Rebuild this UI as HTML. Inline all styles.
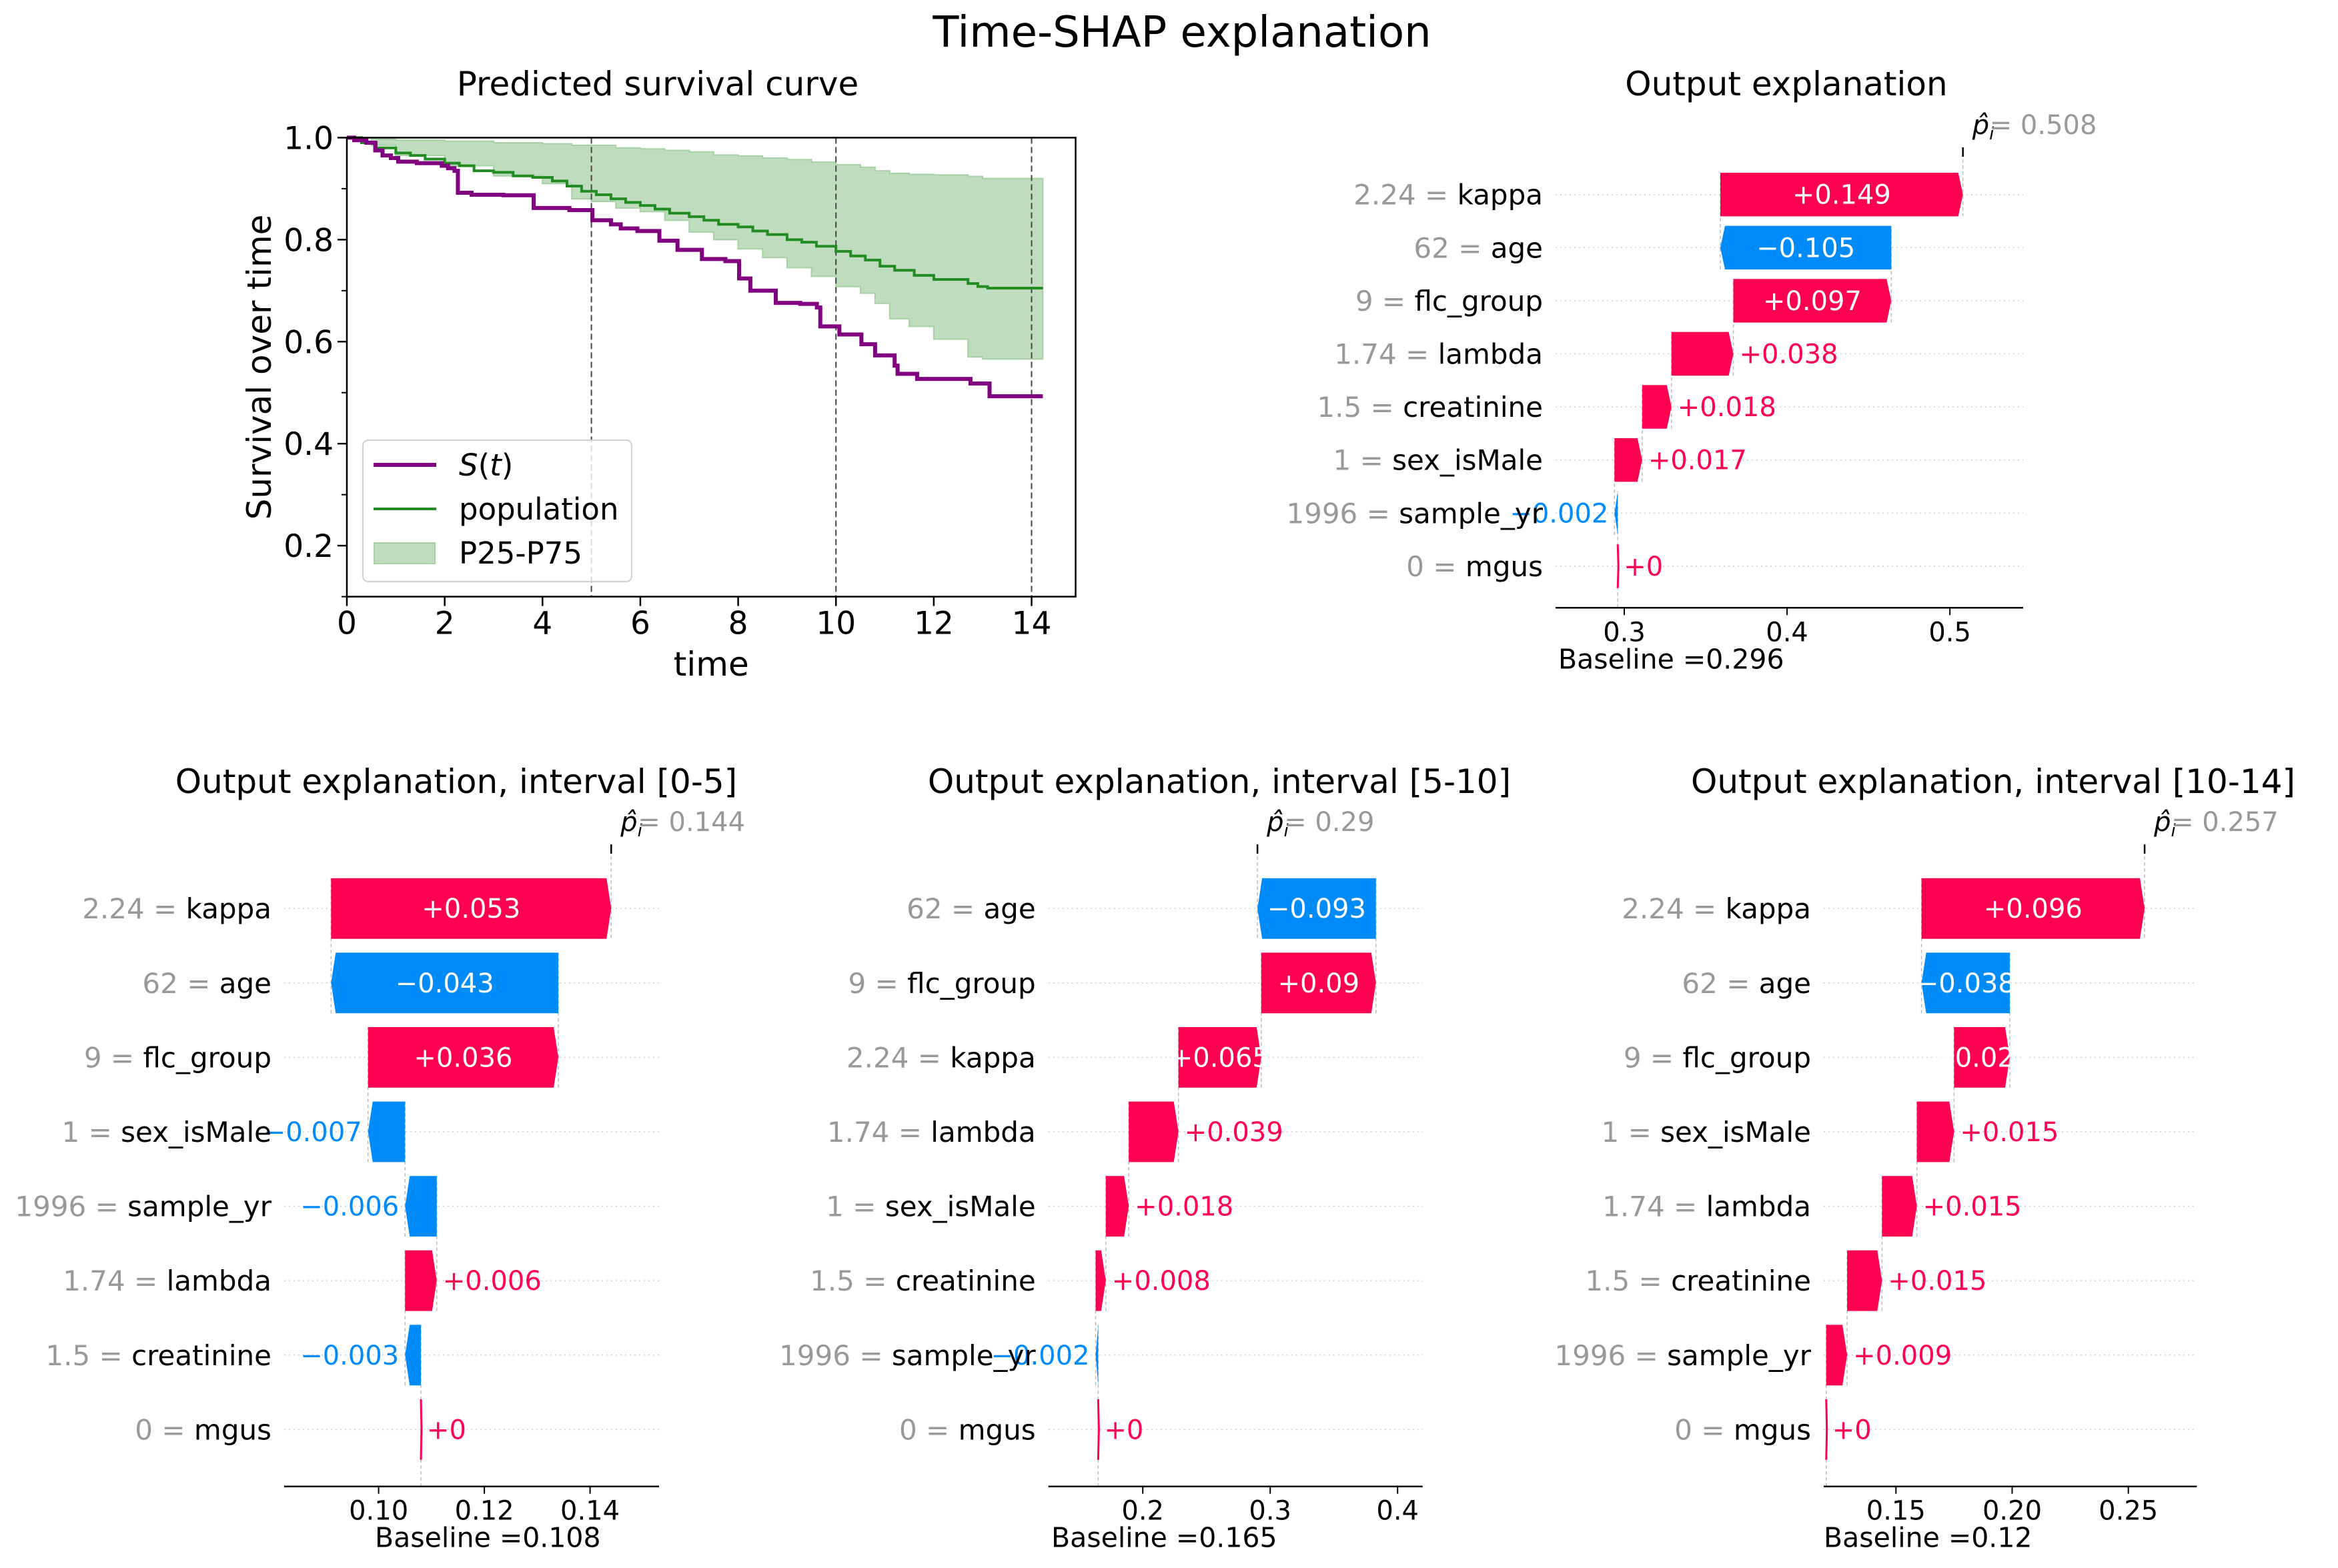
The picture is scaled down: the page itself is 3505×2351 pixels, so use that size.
<!DOCTYPE html>
<html><head><meta charset="utf-8"><title>Time-SHAP explanation</title>
<style>
html,body{margin:0;padding:0;background:#fff;}
svg{display:block;font-family:"DejaVu Sans","Liberation Sans",sans-serif;}
</style></head>
<body>
<svg id="fig" xmlns="http://www.w3.org/2000/svg" width="3505" height="2351" viewBox="0 0 3505 2351">
<rect x="0" y="0" width="3505" height="2351" fill="#fff"/>
<text x="1772" y="70" font-size="64" text-anchor="middle">Time-SHAP explanation</text>
<g id="surv"></g>
<g id="tr"></g>
<g id="bl"></g>
<g id="bm"></g>
<g id="br"></g>
</svg>
<script>
// ---------- Survival data ----------
const sTimes = [0,0.15,0.4,0.58,0.73,0.9,1.05,1.43,1.94,2.07,2.2,2.27,2.55,3.2,3.82,4.55,5.02,5.4,5.6,5.94,6.39,6.76,7.26,7.74,8.02,8.25,8.77,9.27,9.61,9.68,10.07,10.52,10.8,11.2,11.26,11.66,12.75,13.14];
const sSurv = [1.0,0.995,0.99,0.975,0.965,0.96,0.953,0.95,0.945,0.94,0.935,0.892,0.888,0.887,0.862,0.858,0.838,0.83,0.822,0.817,0.798,0.78,0.762,0.758,0.724,0.70,0.676,0.674,0.667,0.63,0.614,0.595,0.573,0.553,0.537,0.527,0.518,0.493];
const popTimes = [0,0.3,0.6,1,1.3,1.6,2,2.3,2.6,3,3.4,3.8,4.2,4.5,4.8,5.1,5.4,5.7,6,6.3,6.6,7,7.3,7.6,8,8.3,8.6,9,9.3,9.6,10,10.3,10.6,10.9,11.2,11.6,12,12.7,12.9,13.1];
const popVals = [1,0.99,0.98,0.97,0.965,0.958,0.95,0.945,0.935,0.932,0.925,0.922,0.915,0.905,0.895,0.888,0.88,0.873,0.867,0.86,0.852,0.845,0.838,0.83,0.825,0.817,0.81,0.8,0.795,0.787,0.777,0.768,0.76,0.748,0.74,0.73,0.722,0.714,0.708,0.705];
const bandTimes = [0,0.5,1,2,3,4,4.6,5,5.5,6,6.5,7,7.5,8,8.5,9,9.5,10,10.5,10.8,11.1,11.5,12,12.7,13];
const bandHi = [1,0.997,0.995,0.993,0.99,0.988,0.985,0.985,0.98,0.978,0.975,0.972,0.966,0.964,0.96,0.957,0.952,0.947,0.942,0.935,0.93,0.928,0.927,0.924,0.92];
const bandLo = [1,0.985,0.965,0.945,0.925,0.91,0.88,0.875,0.862,0.855,0.838,0.815,0.8,0.782,0.765,0.745,0.728,0.708,0.695,0.675,0.645,0.63,0.605,0.57,0.566];
const tEnd = 14.23;
const intervalCuts = [5,10,14];
const survXTicks = [0,2,4,6,8,10,12,14];
const survYTicks = [0.2,0.4,0.6,0.8,1.0];
const survYMinor = [0.1,0.3,0.5,0.7,0.9];

// ---------- Waterfall data ----------
const trFeatures = ["kappa","age","flc_group","lambda","creatinine","sex_isMale","sample_yr","mgus"];
const trFeatVals = ["2.24","62","9","1.74","1.5","1","1996","0"];
const trShap = [0.149,-0.105,0.097,0.038,0.018,0.017,-0.002,0];
const trLabels = ["+0.149","\u22120.105","+0.097","+0.038","+0.018","+0.017","\u22120.002","+0"];
const trInside = [true,true,true,false,false,false,false,false];
const trBaseline = 0.296;
const trPredText = "= 0.508";
const trTicks = [0.3,0.4,0.5];
const trTickLabels = ["0.3","0.4","0.5"];

const blFeatures = ["kappa","age","flc_group","sex_isMale","sample_yr","lambda","creatinine","mgus"];
const blFeatVals = ["2.24","62","9","1","1996","1.74","1.5","0"];
const blShap = [0.053,-0.043,0.036,-0.007,-0.006,0.006,-0.003,0];
const blLabels = ["+0.053","\u22120.043","+0.036","\u22120.007","\u22120.006","+0.006","\u22120.003","+0"];
const blInside = [true,true,true,false,false,false,false,false];
const blBaseline = 0.108;
const blPredText = "= 0.144";
const blTicks = [0.10,0.12,0.14];
const blTickLabels = ["0.10","0.12","0.14"];

const bmFeatures = ["age","flc_group","kappa","lambda","sex_isMale","creatinine","sample_yr","mgus"];
const bmFeatVals = ["62","9","2.24","1.74","1","1.5","1996","0"];
const bmShap = [-0.093,0.09,0.065,0.039,0.018,0.008,-0.002,0];
const bmLabels = ["\u22120.093","+0.09","+0.065","+0.039","+0.018","+0.008","\u22120.002","+0"];
const bmInside = [true,true,true,false,false,false,false,false];
const bmBaseline = 0.165;
const bmPredText = "= 0.29";
const bmTicks = [0.2,0.3,0.4];
const bmTickLabels = ["0.2","0.3","0.4"];

const brFeatures = ["kappa","age","flc_group","sex_isMale","lambda","creatinine","sample_yr","mgus"];
const brFeatVals = ["2.24","62","9","1","1.74","1.5","1996","0"];
const brShap = [0.096,-0.038,0.024,0.016,0.015,0.015,0.009,0];
const brLabels = ["+0.096","\u22120.038","+0.024","+0.015","+0.015","+0.015","+0.009","+0"];
const brInside = [true,true,true,false,false,false,false,false];
const brBaseline = 0.12;
const brPredText = "= 0.257";
const brTicks = [0.15,0.20,0.25];
const brTickLabels = ["0.15","0.20","0.25"];

const NS = "http://www.w3.org/2000/svg";
function mk(parent, tag, attrs, text){
  const e = document.createElementNS(NS, tag);
  for (const k in attrs) e.setAttribute(k, attrs[k]);
  if (text !== undefined) e.textContent = text;
  parent.appendChild(e);
  return e;
}

// ---------- Survival panel ----------
(function(){
  const g = document.getElementById('surv');
  const L=520, R=1612.5, T=206.4, B=894.6, xmax=14.9, ymin=0.1, ymax=1.0;
  const X = t => L + t/xmax*(R-L);
  const Y = s => B - (s-ymin)/(ymax-ymin)*(B-T);
  function stepPath(ts, vs){
    let d = 'M'+X(ts[0])+','+Y(vs[0]);
    for (let i=1;i<ts.length;i++){ d += ' H'+X(ts[i])+' V'+Y(vs[i]); }
    d += ' H'+X(tEnd);
    return d;
  }
  let d = 'M'+X(bandTimes[0])+','+Y(bandHi[0]);
  for (let i=1;i<bandTimes.length;i++) d += ' H'+X(bandTimes[i])+' V'+Y(bandHi[i]);
  d += ' H'+X(tEnd)+' V'+Y(bandLo[bandLo.length-1]);
  for (let i=bandTimes.length-1;i>=1;i--) d += ' H'+X(bandTimes[i])+' V'+Y(bandLo[i-1]);
  d += ' H'+X(bandTimes[0])+' Z';
  let e = mk(g,'path',{d:d, fill:'#bfdcbf', stroke:'#a6d0a6', 'stroke-width':2});
  
  
  intervalCuts.forEach(c=>{
    const l = mk(g,'line',{x1:X(c),x2:X(c),y1:T,y2:B,stroke:'#444','stroke-width':2,'stroke-dasharray':'9,5'});
    
    
  });
  e = mk(g,'path',{d:stepPath(popTimes,popVals), fill:'none', stroke:'#228b22','stroke-width':4});
  
  
  e = mk(g,'path',{d:stepPath(sTimes,sSurv), fill:'none', stroke:'#800080','stroke-width':6});
  
  
  e = mk(g,'rect',{x:L,y:T,width:R-L,height:B-T,fill:'none',stroke:'#000','stroke-width':2.5});
  
  
  survXTicks.forEach((t,i)=>{
    mk(g,'line',{x1:X(t),x2:X(t),y1:B,y2:B+14,stroke:'#000','stroke-width':2.5});
    const tx = mk(g,'text',{x:X(t),y:B+56,'font-size':47,'text-anchor':'middle'}, String(t));
    
    
  });
  survYTicks.forEach(s=>{
    mk(g,'line',{x1:L-14,x2:L,y1:Y(s),y2:Y(s),stroke:'#000','stroke-width':2.5});
    const tx = mk(g,'text',{x:L-20,y:Y(s)+17,'font-size':47,'text-anchor':'end'}, s.toFixed(1));
    
    
  });
  survYMinor.forEach(s=>{
    mk(g,'line',{x1:L-8,x2:L,y1:Y(s),y2:Y(s),stroke:'#000','stroke-width':2});
  });
  e = mk(g,'text',{x:(L+R)/2,y:1013,'font-size':50,'text-anchor':'middle'},'time');
  
  
  e = mk(g,'text',{x:0,y:0,'font-size':50,'text-anchor':'middle',transform:'translate(406,'+((T+B)/2)+') rotate(-90)'},'Survival over time');
  
  
  e = mk(g,'text',{x:986,y:143,'font-size':50,'text-anchor':'middle'},'Predicted survival curve');
  
  
  const lg = mk(g,'g',{});
  
  
  mk(lg,'rect',{x:544,y:660,width:403,height:212,rx:8,fill:'#fff','fill-opacity':0.8,stroke:'#d0d0d0','stroke-width':2});
  mk(lg,'line',{x1:560,x2:654,y1:697,y2:697,stroke:'#800080','stroke-width':6});
  const t1 = mk(lg,'text',{x:688,y:713,'font-size':45});
  mk(t1,'tspan',{'font-style':'italic'},'S');
  mk(t1,'tspan',{},'(');
  mk(t1,'tspan',{'font-style':'italic'},'t');
  mk(t1,'tspan',{},')');
  
  
  mk(lg,'line',{x1:560,x2:654,y1:763,y2:763,stroke:'#228b22','stroke-width':4});
  const t2 = mk(lg,'text',{x:688,y:779,'font-size':45},'population');
  
  
  mk(lg,'rect',{x:561,y:814,width:91,height:31,fill:'#bfdcbf',stroke:'#a6d0a6','stroke-width':2});
  const t3 = mk(lg,'text',{x:688,y:845,'font-size':45},'P25-P75');
  
  
})();

// ---------- Waterfall panels ----------
function waterfall(id, cfg, features, featVals, shap, labels, inside, baseline, predText, ticks, tickLabels){
  const g = document.getElementById(id);
  const X = v => cfg.axL + (v-cfg.xmin)/(cfg.xmax-cfg.xmin)*(cfg.axR-cfg.axL);
  const n = features.length;
  const rowY = i => cfg.row0 + i*cfg.step;
  const h = cfg.barH;
  for (let i=0;i<n;i++){
    mk(g,'line',{x1:cfg.axL,x2:cfg.axR,y1:rowY(i),y2:rowY(i),stroke:'#cccccc','stroke-width':1.5,'stroke-dasharray':'2,5'});
  }
  const starts = new Array(n), ends = new Array(n);
  let cum = baseline;
  for (let i=n-1;i>=0;i--){ starts[i]=cum; cum += shap[i]; ends[i]=cum; }
  const pred = cum;
  mk(g,'line',{x1:X(baseline),x2:X(baseline),y1:rowY(n-1)-h/2,y2:cfg.axisY,stroke:'#bbbbbb','stroke-width':1.5,'stroke-dasharray':'5,4'});
  mk(g,'line',{x1:X(pred),x2:X(pred),y1:cfg.topY,y2:rowY(0)+h/2,stroke:'#bbbbbb','stroke-width':1.5,'stroke-dasharray':'5,4'});
  for (let i=1;i<n;i++){
    mk(g,'line',{x1:X(ends[i]),x2:X(ends[i]),y1:rowY(i)+h/2,y2:rowY(i-1)-h/2,stroke:'#bbbbbb','stroke-width':1.5,'stroke-dasharray':'5,4'});
  }
  for (let i=0;i<n;i++){
    const x1 = X(starts[i]), x2 = X(ends[i]), yt = rowY(i)-h/2, yb = rowY(i)+h/2, ym = rowY(i);
    const pos = shap[i] >= 0;
    let w = Math.abs(x2-x1);
    let pts;
    if (w < 3){
      pts = [[x1-1.5,yt],[x1+1.5,yt],[x1+2.5,ym],[x1+1.5,yb],[x1-1.5,yb],[x1-0.5,ym]];
    } else {
      const hd = Math.min(7, w);
      pts = pos ? [[x1,yt],[x2-hd,yt],[x2,ym],[x2-hd,yb],[x1,yb]]
                : [[x1,yt],[x2+hd,yt],[x2,ym],[x2+hd,yb],[x1,yb]];
    }
    const poly = mk(g,'polygon',{points:pts.map(p=>p.join(',')).join(' '), fill: pos ? '#ff0051' : '#008bfb'});
    
    
    let tx;
    if (inside[i]){
      tx = mk(g,'text',{x:(x1+x2)/2,y:ym+14,'font-size':40,'text-anchor':'middle',fill:'#fff'},labels[i]);
    } else if (pos){
      tx = mk(g,'text',{x:Math.max(x1,x2)+9,y:ym+14,'font-size':40,'text-anchor':'start',fill:'#ff0051'},labels[i]);
    } else {
      tx = mk(g,'text',{x:Math.min(x1,x2)-9,y:ym+14,'font-size':40,'text-anchor':'end',fill:'#008bfb'},labels[i]);
    }
    
    
    const fl = mk(g,'text',{x:cfg.axL-19,y:ym+15,'font-size':42,'text-anchor':'end'});
    mk(fl,'tspan',{fill:'#999999'},featVals[i]+' = ');
    mk(fl,'tspan',{fill:'#000'},features[i]);
    
    
  }
  const ax = mk(g,'line',{x1:cfg.axL,x2:cfg.axR,y1:cfg.axisY,y2:cfg.axisY,stroke:'#000','stroke-width':2.5});
  
  
  ticks.forEach((t,i)=>{
    mk(g,'line',{x1:X(t),x2:X(t),y1:cfg.axisY,y2:cfg.axisY+11,stroke:'#000','stroke-width':2});
    const tl = mk(g,'text',{x:X(t),y:cfg.axisY+50,'font-size':40,'text-anchor':'middle'},tickLabels[i]);
    
    
  });
  const bt = mk(g,'text',{x:cfg.baseX,y:cfg.axisY+91,'font-size':41},'Baseline ='+String(baseline));
  
  
  mk(g,'line',{x1:X(pred),x2:X(pred),y1:cfg.topY,y2:cfg.topY+14,stroke:'#000','stroke-width':2.5});
  const pl = mk(g,'text',{x:X(pred)+14,y:cfg.topY-20,'font-size':40,'font-style':'italic'});
  mk(pl,'tspan',{},'p\u0302');
  mk(pl,'tspan',{'font-size':26,dy:8},'i');
  
  
  const pv = mk(g,'text',{x:X(pred)+40,y:cfg.topY-20,'font-size':40,fill:'#999999'},predText);
  
  
  const tt = mk(g,'text',{x:cfg.titleX,y:cfg.titleY,'font-size':50,'text-anchor':'middle'},cfg.title);
  
  
}

waterfall('tr',{axL:2332,axR:3033,xmin:0.2578,xmax:0.545,axisY:911.3,row0:291.7,step:79.6,barH:65.4,topY:221,baseX:2336,titleX:2678,titleY:143,title:'Output explanation'},
  trFeatures,trFeatVals,trShap,trLabels,trInside,trBaseline,trPredText,trTicks,trTickLabels);
waterfall('bl',{axL:426,axR:988,xmin:0.08213,xmax:0.15305,axisY:2228.7,row0:1362.2,step:111.6,barH:90.8,topY:1266,baseX:562,titleX:684,titleY:1189,title:'Output explanation, interval [0-5]'},
  blFeatures,blFeatVals,blShap,blLabels,blInside,blBaseline,blPredText,blTicks,blTickLabels);
waterfall('bm',{axL:1571.7,axR:2132.7,xmin:0.12592,xmax:0.41963,axisY:2228.7,row0:1362.2,step:111.6,barH:90.8,topY:1266,baseX:1576,titleX:1828,titleY:1189,title:'Output explanation, interval [5-10]'},
  bmFeatures,bmFeatVals,bmShap,bmLabels,bmInside,bmBaseline,bmPredText,bmTicks,bmTickLabels);
waterfall('br',{axL:2734,axR:3293.4,xmin:0.11892,xmax:0.27948,axisY:2228.7,row0:1362.2,step:111.6,barH:90.8,topY:1266,baseX:2734,titleX:2988,titleY:1189,title:'Output explanation, interval [10-14]'},
  brFeatures,brFeatVals,brShap,brLabels,brInside,brBaseline,brPredText,brTicks,brTickLabels);
</script>
</body></html>
